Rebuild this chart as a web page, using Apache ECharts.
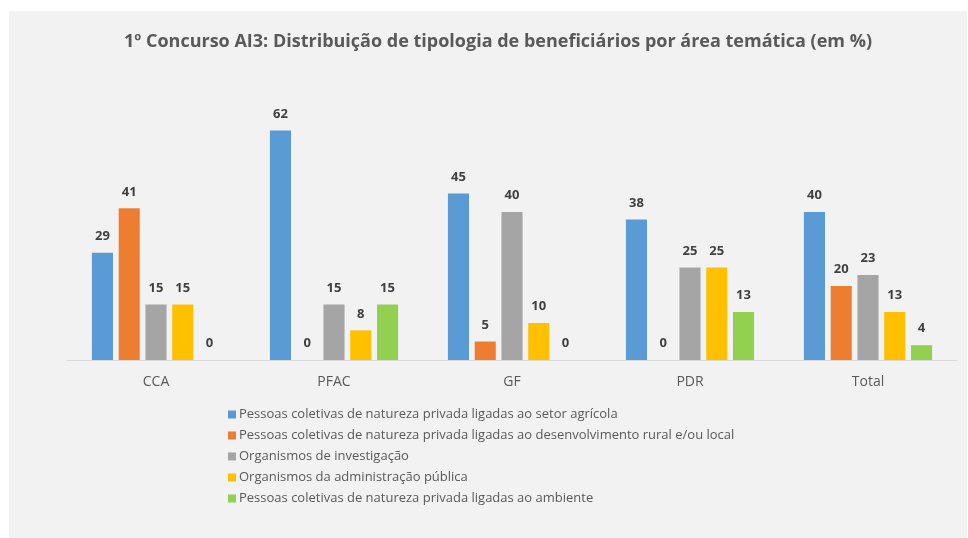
<!DOCTYPE html>
<html>
<head>
<meta charset="utf-8">
<script src="https://cdn.jsdelivr.net/npm/echarts@6/dist/echarts.min.js"></script>
<style>
  html, body { margin: 0; padding: 0; background: #ffffff; }
  #main { position: absolute; left: 9px; top: 11px; width: 958px; height: 527px; background: #f2f2f2; }
</style>
</head>
<body>
<div id="main"></div>
<script>
var categories = ['CCA', 'PFAC', 'GF', 'PDR', 'Total'];
var seriesNames = [
    'Pessoas coletivas de natureza privada ligadas ao setor agrícola',
    'Pessoas coletivas de natureza privada ligadas ao desenvolvimento rural e/ou local',
    'Organismos de investigação',
    'Organismos da administração pública',
    'Pessoas coletivas de natureza privada ligadas ao ambiente'
];
var agricola = [29, 62, 45, 38, 40];
var desenvolvimento = [41, 0, 5, 0, 20];
var investigacao = [15, 15, 40, 25, 23];
var administracao = [15, 8, 10, 25, 13];
var ambiente = [0, 15, 0, 13, 4];
var colors = ['#5b9bd5', '#ed7d31', '#a5a5a5', '#ffc000', '#92d050'];

var values = [agricola, desenvolvimento, investigacao, administracao, ambiente];
var font = '"Open Sans", sans-serif';

var series = values.map(function (v, i) {
    return {
        name: seriesNames[i],
        type: 'bar',
        data: v,
        barGap: '27%',
        barCategoryGap: '28%',
        itemStyle: { color: colors[i] },
        label: {
            show: true,
            position: 'top',
            distance: 10,
            color: '#404040',
            fontWeight: 'bold',
            fontSize: 13,
            fontFamily: font
        }
    };
});

var myChart = echarts.init(document.getElementById('main'));
myChart.setOption({
    animation: false,
    color: colors,
    title: {
        text: '1º Concurso AI3: Distribuição de tipologia de beneficiários por área temática (em %)',
        left: 110,
        top: 17,
        textStyle: { color: '#595959', fontSize: 18, fontWeight: 'bold', fontFamily: font }
    },
    legend: {
        orient: 'vertical',
        left: 214,
        top: 392,
        icon: 'rect',
        itemWidth: 8,
        itemHeight: 8,
        itemGap: 8,
        textStyle: { color: '#595959', fontSize: 13, fontFamily: font, padding: [0, 0, 0, -2] },
        data: seriesNames
    },
    grid: { left: 58, right: 10, top: 90, bottom: 178 },
    xAxis: {
        type: 'category',
        data: categories,
        axisLine: { lineStyle: { color: '#d9d9d9' } },
        axisTick: { show: false },
        axisLabel: { color: '#595959', fontSize: 14, margin: 15, fontFamily: font }
    },
    yAxis: {
        type: 'value',
        min: 0,
        max: 70,
        show: false,
        splitLine: { show: false }
    },
    series: series
});
</script>
</body>
</html>
